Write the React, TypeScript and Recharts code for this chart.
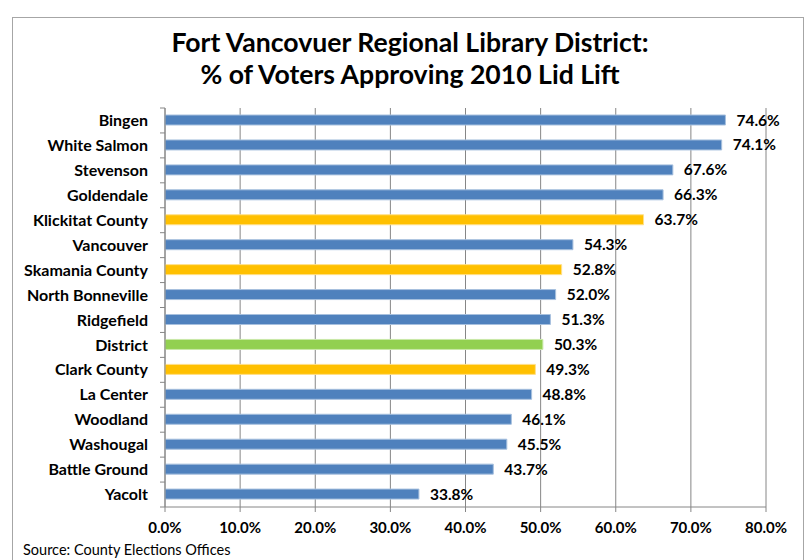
import React from "react";
import { BarChart, Bar, XAxis, YAxis, CartesianGrid, Cell, LabelList } from "recharts";

const places = [
  "Bingen", "White Salmon", "Stevenson", "Goldendale", "Klickitat County", "Vancouver",
  "Skamania County", "North Bonneville", "Ridgefield", "District", "Clark County",
  "La Center", "Woodland", "Washougal", "Battle Ground", "Yacolt",
];
const approvalPct = [74.6, 74.1, 67.6, 66.3, 63.7, 54.3, 52.8, 52.0, 51.3, 50.3, 49.3, 48.8, 46.1, 45.5, 43.7, 33.8];
const placeKind = [
  "city", "city", "city", "city", "county", "city", "county", "city", "city", "district",
  "county", "city", "city", "city", "city", "city",
];
const xTicks = [0, 10, 20, 30, 40, 50, 60, 70, 80];

const kindColor: Record<string, string> = { city: "#4F81BD", county: "#FFC000", district: "#92D050" };
const kindEdge: Record<string, string> = { city: "#A7C0DE", county: "#FFE08A", district: "#C9E8A8" };

const data = places.map((name, i) => ({ name, value: approvalPct[i], kind: placeKind[i] }));

const W = 806;
const H = 560;
const X_AXIS_H = 30;
const M = { top: 108, right: 40, bottom: 53 - X_AXIS_H, left: 15 };
const BAND = (H - M.top - M.bottom - X_AXIS_H) / places.length;
const FONT = "Lato, 'Open Sans', sans-serif";
const AXIS = "#868686";

const YTick = (props: any) => {
  const { x, y, payload, index } = props;
  const ax = x + 17;
  return (
    <g>
      <line x1={ax - 5} x2={ax} y1={y + BAND / 2} y2={y + BAND / 2} stroke={AXIS} />
      {index === 0 && <line x1={ax - 5} x2={ax} y1={y - BAND / 2} y2={y - BAND / 2} stroke={AXIS} />}
      <text x={x} y={y} dy="0.35em" textAnchor="end" fontFamily={FONT} fontWeight={700} fontSize={16} fill="#000">
        {payload.value}
      </text>
    </g>
  );
};

export default function App() {
  return (
    <div style={{ position: "absolute", left: 0, top: 0, width: W, height: H, background: "#fff", overflow: "hidden" }}>
      <div style={{ position: "absolute", left: 12, top: 17, width: 792, height: 600, border: "1px solid #A6A6A6", boxSizing: "border-box" }} />
      <div style={{ position: "absolute", left: 0, top: 26, width: 820, textAlign: "center", fontFamily: FONT, fontWeight: 700, fontSize: 26.6, lineHeight: "32px", color: "#000" }}>
        <div>Fort Vancovuer Regional Library District:</div>
        <div>% of Voters Approving 2010 Lid Lift</div>
      </div>
      <div style={{ position: "absolute", left: 23, top: 541, fontFamily: FONT, fontSize: 14.5, color: "#000" }}>
        Source: County Elections Offices
      </div>
      <div style={{ position: "absolute", left: 0, top: 0 }}>
        <BarChart width={W} height={H} data={data} layout="vertical" margin={M} barSize={10}>
          <CartesianGrid horizontal={false} stroke={AXIS} strokeWidth={1} />
          <XAxis
            type="number"
            domain={[0, 80]}
            ticks={xTicks}
            interval={0}
            height={X_AXIS_H}
            tickFormatter={(v: number) => `${v.toFixed(1)}%`}
            stroke={AXIS}
            tickSize={5}
            tickMargin={10}
            tick={{ fill: "#000", fontFamily: FONT, fontWeight: 700, fontSize: 15 }}
          />
          <YAxis
            type="category"
            dataKey="name"
            width={150}
            interval={0}
            stroke={AXIS}
            tickLine={false}
            tickSize={5}
            tickMargin={12}
            tick={<YTick />}
          />
          <Bar dataKey="value" isAnimationActive={false}>
            {data.map((d, i) => (
              <Cell key={i} fill={kindColor[d.kind]} stroke={kindEdge[d.kind]} strokeWidth={1} />
            ))}
            <LabelList
              dataKey="value"
              position="right"
              offset={11}
              formatter={(v: any) => `${Number(v).toFixed(1)}%`}
              style={{ fill: "#000", fontFamily: FONT, fontWeight: 700, fontSize: 15.5 }}
            />
          </Bar>
        </BarChart>
      </div>
    </div>
  );
}
